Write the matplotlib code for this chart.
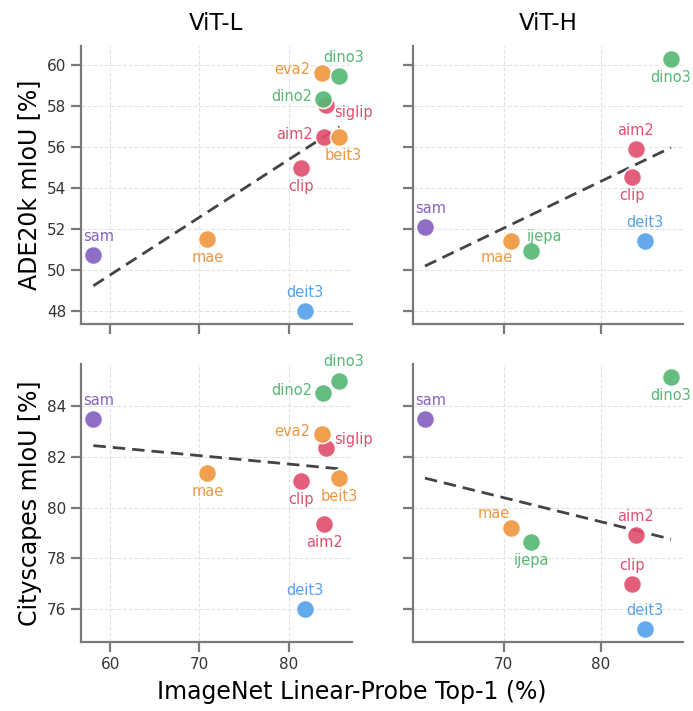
import numpy as np
import matplotlib
matplotlib.use("Agg")
import matplotlib.pyplot as plt

# ---- data ----
models_L = ["sam", "mae", "clip", "deit3", "aim2", "siglip", "beit3", "eva2", "dino2", "dino3"]
imnet_L = [58.1, 70.9, 81.4, 81.8, 84.0, 84.2, 85.7, 83.7, 83.9, 85.7]
ade_L = [50.75, 51.55, 55.0, 48.0, 56.5, 58.05, 56.5, 59.6, 58.35, 59.45]
city_L = [83.5, 81.35, 81.05, 76.0, 79.35, 82.35, 81.15, 82.9, 84.5, 85.0]

models_H = ["sam", "mae", "ijepa", "deit3", "clip", "aim2", "dino3"]
imnet_H = [61.9, 70.7, 72.8, 84.5, 83.2, 83.6, 87.2]
ade_H = [52.1, 51.45, 50.95, 51.45, 54.55, 55.9, 60.3]
city_H = [83.5, 79.2, 78.65, 75.2, 77.0, 78.9, 85.15]

colors = {
    "sam": "#8563c0", "mae": "#ee973f", "eva2": "#ee973f", "beit3": "#ee973f",
    "clip": "#e0506f", "aim2": "#e0506f", "siglip": "#e0506f",
    "deit3": "#56a2ea", "dino2": "#58b874", "dino3": "#58b874", "ijepa": "#58b874",
}

# label placement (offset in points, alignment)
U, D, Lf = (0, 8, "center", "bottom"), (0, -8, "center", "top"), (-8, 2, "right", "center")
place = {
    (0, 0): {"sam": (4, 8, "center", "bottom"), "mae": D, "clip": D, "deit3": U, "aim2": Lf,
             "siglip": (6, -5, "left", "center"), "beit3": (3, -8, "center", "top"),
             "eva2": (-8, 3, "right", "center"), "dino2": Lf, "dino3": (3, 8, "center", "bottom")},
    (0, 1): {"sam": (4, 8, "center", "bottom"), "mae": (-10, -7, "center", "top"),
             "ijepa": (10, 5, "center", "bottom"), "deit3": U, "clip": D, "aim2": U, "dino3": D},
    (1, 0): {"sam": (4, 8, "center", "bottom"), "mae": D, "clip": D, "deit3": U, "aim2": D,
             "siglip": (6, 6, "left", "center"), "beit3": D, "eva2": Lf, "dino2": Lf,
             "dino3": (3, 8, "center", "bottom")},
    (1, 1): {"sam": (4, 8, "center", "bottom"), "mae": (-12, 5, "center", "bottom"),
             "ijepa": D, "aim2": U, "clip": U, "deit3": U, "dino3": D},
}

plt.rcParams["font.family"] = "DejaVu Sans"
fig, axes = plt.subplots(2, 2, figsize=(6.93, 7.11), dpi=100, sharex="col", sharey="row")
fig.subplots_adjust(left=0.117, right=0.986, top=0.935, bottom=0.097, wspace=0.225, hspace=0.144)

panels = {
    (0, 0): (models_L, imnet_L, ade_L),
    (0, 1): (models_H, imnet_H, ade_H),
    (1, 0): (models_L, imnet_L, city_L),
    (1, 1): (models_H, imnet_H, city_H),
}

for (r, c), (names, xs, ys) in panels.items():
    ax = axes[r, c]
    xs = np.array(xs)
    ys = np.array(ys)
    k, b = np.polyfit(xs, ys, 1)
    xl = np.array([xs.min(), xs.max()])
    ax.plot(xl, k * xl + b, ls=(0, (4.5, 2.5)), color="#444444", lw=2, zorder=2)
    for n, x, y in zip(names, xs, ys):
        ax.scatter(x, y, s=170, color=colors[n], edgecolor="white", linewidth=1.2,
                   alpha=0.92, zorder=3)
        dx, dy, ha, va = place[(r, c)][n]
        ax.annotate(n, (x, y), xytext=(dx, dy), textcoords="offset points",
                    ha=ha, va=va, fontsize=10.5, color=colors[n], zorder=4)
    ax.grid(True, ls="--", color="#e3e3e3", lw=0.8)
    ax.set_axisbelow(True)
    for s in ["top", "right"]:
        ax.spines[s].set_visible(False)
    for s in ["left", "bottom"]:
        ax.spines[s].set_color("#7a7a7a")
        ax.spines[s].set_linewidth(1.6)
    ax.tick_params(length=7, width=1.6, color="#7a7a7a", labelsize=11, labelcolor="#333333")

axes[0, 0].set_title("ViT-L", fontsize=16.5, pad=12)
axes[0, 1].set_title("ViT-H", fontsize=16.5, pad=12)
axes[0, 0].set_yticks([48, 50, 52, 54, 56, 58, 60])
axes[1, 0].set_yticks([76, 78, 80, 82, 84])
axes[1, 0].set_xticks([60, 70, 80])
axes[1, 1].set_xticks([70, 80])
axes[0, 0].set_ylabel("ADE20k mIoU [%]", fontsize=17)
axes[1, 0].set_ylabel("Cityscapes mIoU [%]", fontsize=17)
fig.supxlabel("ImageNet Linear-Probe Top-1 (%)", fontsize=17, x=0.507, y=0.01)

fig.savefig("out.png", dpi=100)
